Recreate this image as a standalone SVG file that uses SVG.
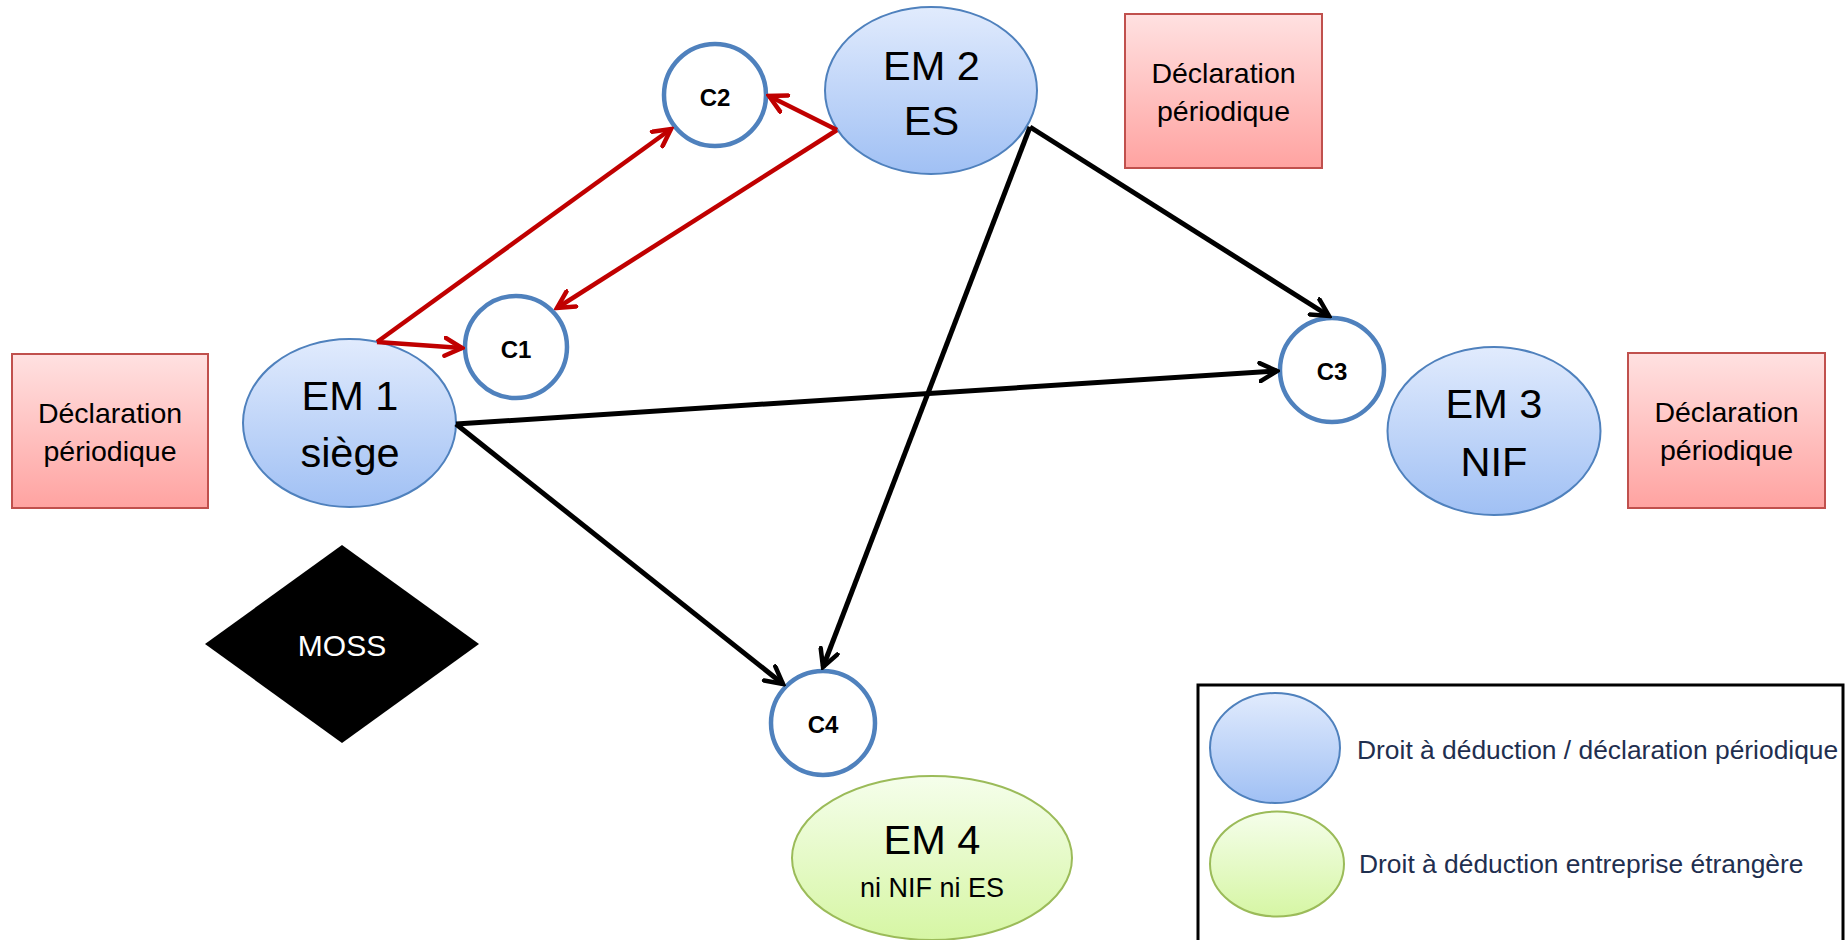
<svg xmlns="http://www.w3.org/2000/svg" width="1847" height="940" viewBox="0 0 1847 940">
<defs>
<linearGradient id="gBlue" x1="0" y1="0" x2="0" y2="1"><stop offset="0" stop-color="#E1EBFD"/><stop offset="1" stop-color="#A0C0F4"/></linearGradient>
<linearGradient id="gRed" x1="0" y1="0" x2="0" y2="1"><stop offset="0" stop-color="#FFE1E1"/><stop offset="1" stop-color="#FFA3A1"/></linearGradient>
<linearGradient id="gGreen" x1="0" y1="0" x2="0" y2="1"><stop offset="0" stop-color="#F5FEEB"/><stop offset="1" stop-color="#D6F6A4"/></linearGradient>
<marker id="aRed" viewBox="0 0 22 22" markerWidth="22" markerHeight="22" markerUnits="userSpaceOnUse" refX="19" refY="11" orient="auto"><path d="M2,2 L19,11 L2,20" fill="none" stroke="#C00000" stroke-width="4.5" stroke-linecap="round"/></marker>
<marker id="aBlack" viewBox="0 0 22 22" markerWidth="22" markerHeight="22" markerUnits="userSpaceOnUse" refX="19" refY="11" orient="auto"><path d="M2,2 L19,11 L2,20" fill="none" stroke="#000" stroke-width="4.5" stroke-linecap="round"/></marker>
</defs>
<style>
.em{fill:url(#gBlue);stroke:#4F81BD;stroke-width:2}
.emg{fill:url(#gGreen);stroke:#9BBB59;stroke-width:2}
.c{fill:#fff;stroke:#4F81BD;stroke-width:4.5}
.box{fill:url(#gRed);stroke:#C0504D;stroke-width:2}
.t{font-family:"Liberation Sans",Arial,sans-serif;text-anchor:middle;fill:#000}
.big{font-size:41.5px}
.mid{font-size:28.5px}
.cl{font-size:24px;font-weight:bold}
.leg{font-family:"Liberation Sans",Arial,sans-serif;font-size:26.4px;fill:#1F2F4F}
.red{stroke:#C00000;stroke-width:4.5;fill:none;marker-end:url(#aRed)}
.blk{stroke:#000;stroke-width:5;fill:none;marker-end:url(#aBlack)}
</style>
<rect width="1847" height="940" fill="#fff"/>

<g id="decl-left"><rect class="box" x="12" y="354" width="196" height="154"/><text class="t mid" x="110" y="423">Déclaration</text><text class="t mid" x="110" y="461">périodique</text></g>
<g id="decl-top"><rect class="box" x="1125" y="14" width="197" height="154"/><text class="t mid" x="1223.5" y="83">Déclaration</text><text class="t mid" x="1223.5" y="121">périodique</text></g>
<g id="decl-right"><rect class="box" x="1628" y="353" width="197" height="155"/><text class="t mid" x="1726.5" y="422">Déclaration</text><text class="t mid" x="1726.5" y="460">périodique</text></g>

<g id="em1"><ellipse class="em" cx="349.5" cy="423" rx="106.5" ry="84"/><text class="t big" x="350" y="410">EM 1</text><text class="t big" x="350" y="467">siège</text></g>
<g id="em2"><ellipse class="em" cx="931" cy="90.5" rx="106" ry="83.5"/><text class="t big" x="931.5" y="80">EM 2</text><text class="t big" x="931.5" y="135">ES</text></g>
<g id="em3"><ellipse class="em" cx="1494" cy="431" rx="106.5" ry="84"/><text class="t big" x="1494" y="418">EM 3</text><text class="t big" x="1494" y="476">NIF</text></g>
<g id="em4"><ellipse class="emg" cx="932" cy="858" rx="140" ry="82"/><text class="t big" x="932" y="854">EM 4</text><text class="t" style="font-size:27px" x="932" y="897">ni NIF ni ES</text></g>

<g id="moss"><polygon points="342,545 479,644 342,743 205,644" fill="#000"/><text class="t" style="font-size:30px;fill:#fff" x="342" y="656">MOSS</text></g>

<g id="c1"><circle class="c" cx="516" cy="347" r="51"/><text class="t cl" x="516" y="358">C1</text></g>
<g id="c2"><circle class="c" cx="715" cy="95" r="51"/><text class="t cl" x="715" y="106">C2</text></g>
<g id="c3"><circle class="c" cx="1332" cy="370" r="52"/><text class="t cl" x="1332" y="380">C3</text></g>
<g id="c4"><circle class="c" cx="823" cy="723" r="52"/><text class="t cl" x="823" y="733">C4</text></g>

<g id="connectors">
<line class="red" x1="377" y1="342" x2="671" y2="129"/>
<line class="red" x1="377" y1="342" x2="462" y2="348"/>
<line class="red" x1="837" y1="130" x2="769" y2="96"/>
<line class="red" x1="837" y1="130" x2="557" y2="308"/>
<line class="blk" x1="1030" y1="127" x2="1329" y2="316"/>
<line class="blk" x1="1030" y1="127" x2="823" y2="667"/>
<line class="blk" x1="456" y1="424" x2="1277" y2="371"/>
<line class="blk" x1="456" y1="424" x2="783" y2="684"/>
</g>

<g id="legend">
<rect x="1198" y="685" width="645" height="270" fill="none" stroke="#000" stroke-width="3"/>
<ellipse class="em" cx="1275" cy="748" rx="65" ry="55"/>
<ellipse class="emg" cx="1277" cy="864" rx="67" ry="52.5"/>
<text class="leg" x="1357" y="759">Droit à déduction / déclaration périodique</text>
<text class="leg" x="1359" y="873">Droit à déduction entreprise étrangère</text>
</g>
</svg>
